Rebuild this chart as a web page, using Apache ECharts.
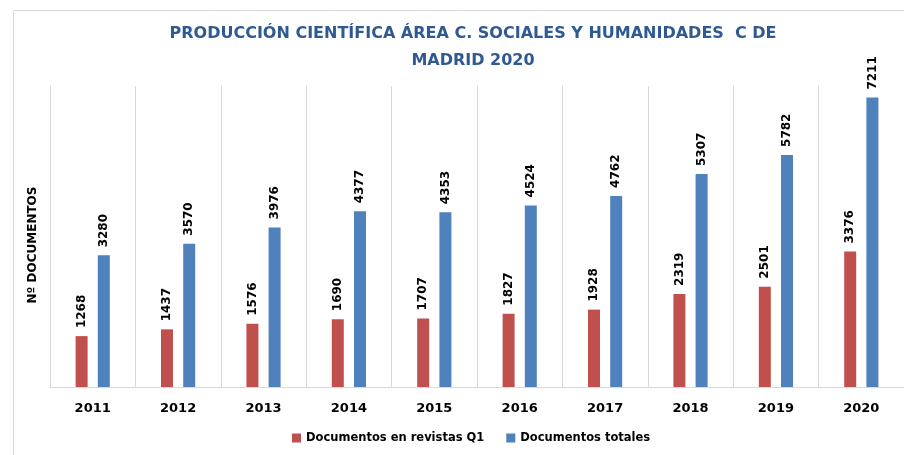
<!DOCTYPE html>
<html>
<head>
<meta charset="utf-8">
<script src="https://cdn.jsdelivr.net/npm/echarts@6/dist/echarts.min.js"></script>
<style>
  html, body { margin: 0; padding: 0; background: #fff; }
  #main { width: 904px; height: 455px; }
</style>
</head>
<body>
<div id="main"></div>
<script>
var years = ['2011', '2012', '2013', '2014', '2015', '2016', '2017', '2018', '2019', '2020'];
var q1Docs = [1268, 1437, 1576, 1690, 1707, 1827, 1928, 2319, 2501, 3376];
var totalDocs = [3280, 3570, 3976, 4377, 4353, 4524, 4762, 5307, 5782, 7211];

var font = 'DejaVu Sans';
var myChart = echarts.init(document.getElementById('main'));

var labelStyle = {
    show: true,
    position: 'top',
    rotate: 90,
    align: 'left',
    verticalAlign: 'middle',
    distance: 8,
    color: '#000',
    fontFamily: font,
    fontWeight: 'bold',
    fontSize: 12
};

var option = {
    animation: false,
    graphic: [
        {
            type: 'rect',
            shape: { x: 13.5, y: 10.5, width: 900, height: 460 },
            style: { fill: 'none', stroke: '#d9d9d9', lineWidth: 1 },
            silent: true
        },
        {
            // eje Y: nombre
            type: 'text',
            x: 33,
            y: 245,
            rotation: Math.PI / 2,
            style: {
                text: 'Nº DOCUMENTOS',
                fill: '#000',
                font: 'bold 12px "DejaVu Sans"',
                align: 'center',
                verticalAlign: 'middle'
            },
            silent: true
        }
    ],
    title: {
        text: 'PRODUCCIÓN CIENTÍFICA ÁREA C. SOCIALES Y HUMANIDADES  C DE\nMADRID 2020',
        left: 468,
        textAlign: 'center',
        top: 15,
        textStyle: {
            color: '#2F5A91',
            fontFamily: font,
            fontWeight: 'bold',
            fontSize: 16,
            lineHeight: 27
        }
    },
    legend: {
        data: ['Documentos en revistas Q1', 'Documentos totales'],
        bottom: 6,
        left: 287,
        itemWidth: 9,
        itemHeight: 9,
        itemGap: 22,
        icon: 'rect',
        textStyle: { color: '#000', fontFamily: font, fontSize: 11.5, fontWeight: 'bold' }
    },
    grid: {
        left: 50,
        top: 86,
        width: 857,
        height: 301
    },
    xAxis: {
        type: 'category',
        data: years,
        axisTick: { show: false },
        axisLine: { lineStyle: { color: '#d9d9d9' } },
        splitLine: { show: true, lineStyle: { color: '#d9d9d9' } },
        axisLabel: {
            color: '#000',
            fontFamily: font,
            fontWeight: 'bold',
            fontSize: 13,
            margin: 15
        }
    },
    yAxis: {
        type: 'value',
        min: 0,
        max: 7500,
        axisLabel: { show: false },
        axisLine: { show: false },
        axisTick: { show: false },
        splitLine: { show: false }
    },
    series: [
        {
            name: 'Documentos en revistas Q1',
            type: 'bar',
            data: q1Docs,
            barWidth: 12,
            barGap: '85%',
            itemStyle: { color: '#C0504D' },
            label: labelStyle
        },
        {
            name: 'Documentos totales',
            type: 'bar',
            data: totalDocs,
            barWidth: 12,
            itemStyle: { color: '#4F81BD' },
            label: labelStyle
        }
    ]
};

myChart.setOption(option);
</script>
</body>
</html>
